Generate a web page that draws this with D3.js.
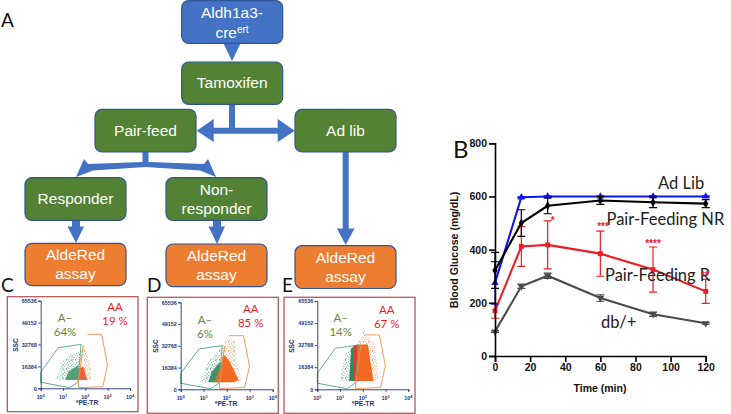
<!DOCTYPE html>
<html><head><meta charset="utf-8">
<script src="https://cdn.jsdelivr.net/npm/d3@7"></script>
<style>
html,body{margin:0;padding:0;background:#fff}
svg{display:block;font-family:"Liberation Sans",Arial,sans-serif}
</style></head><body>
<svg id="c" width="731" height="414"></svg>
<script>
// ---------- Panel B data ----------
const times = [0, 15, 30, 60, 90, 120];
const adLib      = [275, 597, 600, 600, 600, 600];
const adLibErr   = [80, 2, 2, 2, 2, 2];
const pairNR     = [322, 500, 565, 585, 578, 573];
const pairNRErr  = [68, 50, 30, 15, 20, 15];
const pairR      = [170, 412, 418, 385, 325, 243];
const pairRErr   = [28, 75, 90, 85, 85, 45];
const dbPlus     = [92, 262, 302, 218, 157, 123];
const dbPlusErr  = [3, 8, 10, 12, 8, 3];
const yTicksB = [0, 200, 400, 600, 800];
const xTicksB = [0, 20, 40, 60, 80, 100, 120];

// ---------- Flow panel data (log10 PE-TR, SSC) ----------
const sscTicks = [0, 16384, 32768, 49152, 65536];
const decades = [0, 1, 2, 3, 4];
const gateGreen  = [[0,11960],[0.79,30400],[1.81,32900],[1.66,4500],[1.3,500],[0,4500]];
const gateOrange = [[1.91,32400],[1.69,5000],[1.69,500],[2.78,1250],[2.99,17440],[2.73,40370],[2.09,40370]];
const cGreenHalo  = [[.72,6200],[.94,19900],[1.39,26100],[1.76,27400],[1.76,6200]];
const cGreenCore  = [[1.09,6200],[1.24,12450],[1.69,17400],[1.69,6200]];
const cOrangeHalo = [[1.64,6200],[1.76,27400],[1.91,32400],[2.21,19900],[2.28,6200]];
const cOrangeCore = [[1.64,6200],[1.69,14900],[1.91,16200],[2.09,6200]];
const dGreenHalo  = [[.84,5300],[1.2,20800],[1.71,30900],[1.71,5300]];
const dGreenCore  = [[1.2,5300],[1.35,13300],[1.71,20800],[1.71,5300]];
const dOrangeHalo = [[1.59,5300],[1.71,30900],[2.03,37900],[2.36,37100],[2.43,23300],[2.65,7000],[2.4,5300]];
const dOrangeCore = [[1.49,5300],[1.68,15800],[1.86,26400],[2.14,20800],[2.51,7000],[2.3,5300]];
const eGreenHalo  = [[1.0,5700],[1.22,26700],[1.66,32900],[1.66,5700]];
const eGreenCore  = [[1.4,6200],[1.49,30400],[1.74,33300],[1.74,6200]];
const eOrangeHalo = [[1.59,5700],[1.74,33300],[1.99,40300],[2.04,48200],[2.13,40300],[2.54,32900],[2.69,6900],[2.4,5700]];
const eOrangeCore = [[1.63,6200],[1.74,33300],[2.22,33300],[2.47,6200]];
const eRedStripe  = [[1.59,6200],[1.59,32900],[1.76,32900],[1.76,6200]];
const percentLow  = ["64%", "6%", "14%"];
const percentHigh = ["19 %", "85 %", "67 %"];

const C = {blue:"#4472c4", green:"#548235", orange:"#ed7d31", edge:"#2f5597", arrow:"#4472c4"};
const svg = d3.select("#c");
const defs = svg.append("defs");
const stipple = [[.6,.9],[3.4,.3],[6.1,1.4],[8.2,.5],[1.7,2.9],[4.6,2.4],[7.3,3.2],[.3,4.7],[3.1,4.4],[5.7,5.1],[8.4,4.9],[1.9,6.4],[4.4,6.9],[7,6.6],[.8,8.2],[3.5,8.5],[6,8.3],[8.5,7.9]];
function dotPattern(id, col, r){
  const p = defs.append("pattern").attr("id",id).attr("patternUnits","userSpaceOnUse").attr("width",9).attr("height",9);
  p.selectAll("circle").data(stipple).join("circle").attr("cx",d=>d[0]).attr("cy",d=>d[1]).attr("r",r).attr("fill",col);
}
dotPattern("gh","#3b9a70",.5);
dotPattern("oh","#f0843f",.5);
defs.append("filter").attr("id","soft").append("feGaussianBlur").attr("stdDeviation",.6);

// ---------- Panel A ----------
const boxes = [
 {x:181.7,y:.7,h:42.6,w:101,f:C.blue,t:null},
 {x:181.7,y:62,h:42.3,w:101,f:C.green,t:["Tamoxifen"]},
 {x:95,y:109.3,h:42.7,w:101,f:C.green,t:["Pair-feed"]},
 {x:295,y:109.3,h:42.7,w:101,f:C.green,t:["Ad lib"]},
 {x:25,y:177.7,h:42.6,w:101,f:C.green,t:["Responder"]},
 {x:166,y:177.7,h:42.6,w:101,f:C.green,t:["Non-","responder"]},
 {x:25,y:243.3,h:42.4,w:101,f:C.orange,t:["AldeRed","assay"]},
 {x:166,y:244,h:42.6,w:101,f:C.orange,t:["AldeRed","assay"]},
 {x:295,y:245.7,h:42.8,w:101,f:C.orange,t:["AldeRed","assay"]}
];
const arrows = svg.append("g").attr("fill",C.arrow);
const shapes = [
 "M223.3 43 L240.7 43 L232 61 Z",
 "M229 104 H235 V127.7 H277.7 V119 L294.7 130.7 L277.7 142 V133.7 H213.7 V142 L196.7 130.7 L213.7 119 V127.7 H229 Z",
 "M142.5 152 H148.5 V162 L204 164 L208 159 L216 177 L200 170.5 L145.5 167 L93 170.5 L76 177 L84 159 L88 164 L142.5 162 Z",
 "M72 220 H80 V226.5 H84 L76 243 L67.5 226.5 H72 Z",
 "M213 220 H221 V226.5 H225 L217 244 L208.5 226.5 H213 Z",
 "M342.7 152 H348.7 V228.5 H354.5 L345.7 245 L337 228.5 H342.7 Z"
];
arrows.selectAll("path").data(shapes).join("path").attr("d",d=>d);

const bg = svg.append("g");
bg.selectAll("rect").data(boxes).join("rect")
  .attr("x",d=>d.x).attr("y",d=>d.y).attr("width",d=>d.w).attr("height",d=>d.h)
  .attr("rx",7).attr("fill",d=>d.f).attr("stroke",C.edge).attr("stroke-width",1.2);
boxes.forEach(b=>{
  const cx=b.x+b.w/2, cy=b.y+b.h/2;
  if(!b.t) return;
  b.t.forEach((s,i)=>{
    bg.append("text").attr("x",cx).attr("y",cy+5+(i-(b.t.length-1)/2)*19)
      .attr("text-anchor","middle").attr("fill","#fff").attr("font-size",15.5).text(s);
  });
});
bg.append("text").attr("x",232).attr("y",18).attr("text-anchor","middle").attr("fill","#fff").attr("font-size",15.5).text("Aldh1a3-");
const cr = bg.append("text").attr("x",232).attr("y",38).attr("text-anchor","middle").attr("fill","#fff").attr("font-size",15.5);
cr.append("tspan").text("cre");
cr.append("tspan").attr("font-size",10).attr("dy",-5).text("ert");

// Panel letters
[["A",1,27,19],["B",453,158,24],["C",1,291.7,19],["D",147,291.7,19],["E",282,291.7,19]].forEach(l=>{
  svg.append("text").attr("x",l[1]).attr("y",l[2]).attr("font-size",l[3]).attr("font-family","Lato").attr("fill","#111").text(l[0]);
});

// ---------- Panels C, D, E ----------
const navy="#23337a";
const panels = [
 {fr:[7.3,296.7,130.7,115],ox:40.7,oy:388.3,xe:130,yt:300.7,
  layers:[[cGreenHalo,"url(#gh)",1,0],[cOrangeHalo,"url(#oh)",1,0],[cGreenCore,"#2f8f63",.8,1],[cOrangeCore,"#ec5522",.9,1]],
  a:[65,322,335.7],b:[115,310.7,325],i:0,t:[87,405],s:16.5,ssc:345},
 {fr:[147.3,297.3,131,116],ox:180.7,oy:389.3,xe:272.7,yt:302.3,
  layers:[[dGreenHalo,"url(#gh)",1,0],[dGreenCore,"#2f8f63",.95,1],[dOrangeHalo,"url(#oh)",1,0],[dOrangeCore,"#f26a21",1,1]],
  a:[205,324.3,338.3],b:[250.7,312.7,326.5],i:1,t:[226,406],s:156,ssc:346},
 {fr:[284,297.3,131,116],ox:317.3,oy:389.3,xe:408.3,yt:301,
  layers:[[eGreenHalo,"url(#gh)",1,0],[eGreenCore,"#2f8a5c",1,1],[eOrangeHalo,"url(#oh)",1,0],[eOrangeCore,"#f26a21",1,1],[eRedStripe,"#e8392a",1,0]],
  a:[340.7,322.3,336],b:[386.7,314,328],i:2,t:[363,406],s:292,ssc:346}
];
panels.forEach(p=>{
  const g = svg.append("g");
  g.append("rect").attr("x",p.fr[0]).attr("y",p.fr[1]).attr("width",p.fr[2]).attr("height",p.fr[3])
    .attr("fill","#fff").attr("stroke","#b35a5a").attr("stroke-width",1.3);
  const x = d3.scaleLinear().domain([0,4]).range([p.ox,p.xe]);
  const y = d3.scaleLinear().domain([0,65536]).range([p.oy,p.yt]);
  const line = d3.line().x(d=>x(d[0])).y(d=>y(d[1]));
  p.layers.forEach(l=>{
    const s=g.append("path").attr("d",line(l[0])+"Z").attr("fill",l[1]).attr("fill-opacity",l[2]);
    if(l[3]) s.attr("filter","url(#soft)");
  });
  g.append("path").attr("d",line(gateGreen)+"Z").attr("fill","none").attr("stroke","#4fa684").attr("stroke-width",.9);
  g.append("path").attr("d",line(gateOrange)).attr("fill","none").attr("stroke","#ef8f4f").attr("stroke-width",.9);
  const ay = g.append("g").attr("transform",`translate(${p.ox},0)`)
    .call(d3.axisLeft(y).tickValues(sscTicks).tickSize(2.5).tickFormat(d3.format("d")));
  const ax = g.append("g").attr("transform",`translate(0,${p.oy})`)
    .call(d3.axisBottom(x).tickValues(decades).tickSize(2.5).tickFormat(""));
  [ay,ax].forEach(a=>{a.selectAll("path,line").attr("stroke",navy).attr("stroke-width",.9);});
  ay.selectAll("text").attr("font-size",5.4).attr("font-weight","bold").attr("fill",navy).attr("dx",1.5);
  decades.forEach(d=>{
    const t=g.append("text").attr("x",x(d)).attr("y",p.oy+11).attr("text-anchor","middle")
      .attr("font-size",5.4).attr("font-weight","bold").attr("fill",navy);
    t.append("tspan").text("10");
    t.append("tspan").attr("dy",-2).attr("font-size",3.8).text(d);
  });
  g.append("text").attr("x",p.t[0]).attr("y",p.t[1]).attr("text-anchor","middle").attr("font-size",6.6).attr("font-weight","bold").attr("fill",navy).text("*PE-TR");
  g.append("text").attr("transform",`translate(${p.s+1.5},${p.ssc}) rotate(-90)`).attr("text-anchor","middle").attr("font-size",6.6).attr("font-weight","bold").attr("fill",navy).text("SSC");
  const lbl=(s,xx,yy,c)=>g.append("text").attr("x",xx).attr("y",yy).attr("text-anchor","middle").attr("font-size",11.5).attr("font-family","Lato").attr("fill",c).text(s);
  lbl("A–",p.a[0],p.a[1],"#5b8a3a"); lbl(percentLow[p.i],p.a[0],p.a[2],"#5b8a3a");
  lbl("AA",p.b[0],p.b[1],"#ee1c25"); lbl(percentHigh[p.i],p.b[0],p.b[2],"#ee1c25");
});

// ---------- Panel B ----------
const xB = d3.scaleLinear().domain([0,120]).range([495,705.7]);
const yB = d3.scaleLinear().domain([0,800]).range([356,143.3]);
const gB = svg.append("g");
const series = [
 {v:dbPlus,e:dbPlusErr,c:"#4a4a4a",m:d3.symbolTriangle,flip:true},
 {v:pairR,e:pairRErr,c:"#ee1c25",m:d3.symbolSquare},
 {v:adLib,e:adLibErr,c:"#1414e6",m:d3.symbolTriangle},
 {v:pairNR,e:pairNRErr,c:"#000",m:d3.symbolDiamond}
];
const lineB = d3.line().x((d,i)=>xB(times[i])).y(d=>yB(d));
series.forEach(s=>{
  const g=gB.append("g");
  s.v.forEach((v,i)=>{
    const px=xB(times[i]), hi=yB(v+s.e[i]), lo=yB(v-s.e[i]);
    g.append("path").attr("d",`M${px-4} ${hi}H${px+4}M${px} ${hi}V${lo}M${px-4} ${lo}H${px+4}`)
      .attr("stroke",s.c).attr("stroke-width",1.2).attr("fill","none");
  });
  g.append("path").attr("d",lineB(s.v)).attr("fill","none").attr("stroke",s.c).attr("stroke-width",2.1);
  g.selectAll("path.m").data(s.v).join("path").attr("class","m")
    .attr("d",d3.symbol().type(s.m).size(24))
    .attr("transform",(d,i)=>`translate(${xB(times[i])},${yB(d)})${s.flip?" rotate(180)":""}`)
    .attr("fill",s.c);
});
const axY = gB.append("g").attr("transform","translate(495,0)").call(d3.axisLeft(yB).tickValues(yTicksB).tickSize(6).tickPadding(2));
const axX = gB.append("g").attr("transform","translate(0,356)").call(d3.axisBottom(xB).tickValues(xTicksB).tickSize(6).tickPadding(2));
[axY,axX].forEach(a=>{
  a.selectAll("path,line").attr("stroke","#000").attr("stroke-width",1.6);
  a.selectAll("text").attr("font-size",10.5).attr("font-weight","bold").attr("fill","#111");
});
gB.append("text").attr("transform","translate(458,250) rotate(-90)").attr("text-anchor","middle").attr("font-size",10.6).attr("font-weight","bold").attr("fill","#111").text("Blood Glucose (mg/dL)");
gB.append("text").attr("x",600).attr("y",392).attr("text-anchor","middle").attr("font-size",10.5).attr("font-weight","bold").attr("fill","#111").text("Time (min)");
[["Ad Lib",658,189],["Pair-Feeding NR",606.5,225],["Pair-Feeding R",605,281],["db/+",601,328]].forEach(l=>{
  gB.append("text").attr("x",l[1]).attr("y",l[2]).attr("font-size",16.5).attr("font-family","Lato").attr("fill","#222").text(l[0]);
});
[["*",552.7,224],["***",603,230],["****",653,247],["**",705,279]].forEach(l=>{
  gB.append("text").attr("x",l[1]).attr("y",l[2]).attr("text-anchor","middle").attr("font-size",10).attr("font-weight","bold").attr("fill","#ee1c25").text(l[0]);
});
</script>
</body></html>
